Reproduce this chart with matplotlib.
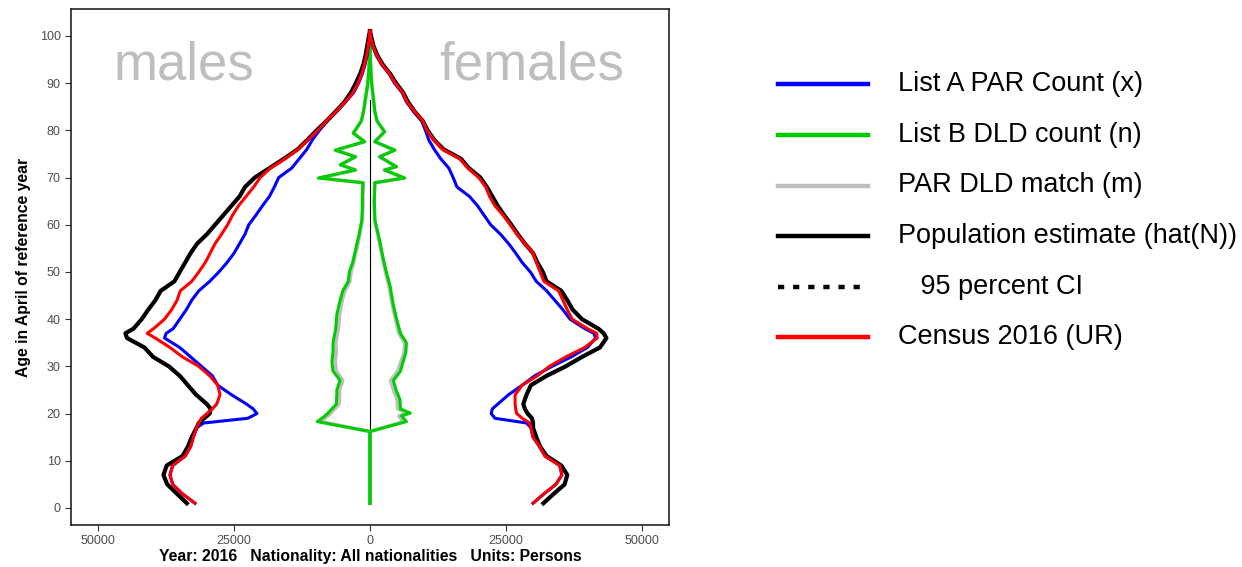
import matplotlib
matplotlib.use("Agg")
import matplotlib.pyplot as plt
from matplotlib.lines import Line2D
import numpy as np

plt.rcParams['font.family'] = ['Liberation Sans', 'DejaVu Sans']

# single-year ages used for the estimate / census / List A curves
ages = [1, 3, 5, 7, 9, 11, 13, 15, 17, 18, 19, 20, 21, 22, 24, 26, 28, 30, 32, 34, 36, 37, 38,
        40, 42, 44, 46, 48, 50, 52, 54, 56, 58, 60, 62, 64, 66, 68, 70, 72, 74, 76, 78, 80,
        82, 84, 86, 88, 90, 92, 94, 96, 98, 100, 101]

# males (counts, drawn to the left)
male_est = [33700, 35500, 37300, 38000, 37400, 34500, 33500, 32800, 31900, 31500, 30500, 29500,
            29300, 30000, 32000, 33500, 35000, 37000, 39900, 41500, 44700, 45000, 43500,
            42000, 40800, 39500, 38500, 36000, 35000, 34000, 33000, 31800, 30000, 28500, 27000,
            25500, 24000, 23000, 21200, 18500, 15800, 13300, 11500, 9800, 8000, 6300, 4700,
            3500, 2600, 1800, 1200, 800, 500, 200, 0]
male_census = [32200, 34500, 36300, 36800, 36300, 34000, 33000, 32500, 31900, 31500, 31000, 30000,
               29000, 28200, 27600, 28000, 29500, 31500, 34500, 36800, 39500, 41000, 39800,
               37800, 36500, 35500, 34900, 32800, 31500, 30300, 29400, 28500, 27300, 26200, 25300,
               24200, 22800, 21400, 20200, 18300, 15600, 13200, 11400, 9600, 8000, 6200, 4600,
               3100, 2200, 1500, 1000, 600, 300, 100, 0]
male_par = [32200, 34500, 36300, 36800, 36300, 34000, 33000, 32500, 31900, 30600, 22500, 20800,
            21500, 22700, 25500, 28000, 29000, 31000, 33000, 35000, 37800, 37500, 36200,
            35000, 33800, 32800, 31500, 29500, 27800, 26300, 25000, 24000, 23000, 22300, 21000,
            19800, 18500, 17600, 16800, 14400, 13000, 11600, 10600, 9300, 7800, 6100, 4500,
            3000, 2100, 1400, 900, 500, 250, 100, 0]

# females (counts, drawn to the right)
female_est = [31900, 33800, 35800, 36300, 35200, 32500, 31300, 30600, 30000, 30000, 29800, 29000,
              28500, 28200, 28800, 29600, 32500, 36000, 39000, 42300, 43500, 43000, 42000,
              39000, 37300, 36300, 35200, 32500, 31800, 30800, 30000, 28500, 27200, 26000, 24700,
              23500, 22500, 21500, 20300, 18200, 16700, 13500, 11800, 10600, 9700, 8200, 7000,
              6100, 4800, 3700, 2300, 1300, 600, 200, 0]
female_census = [30000, 32000, 34200, 35300, 34900, 32200, 31200, 30000, 29600, 29400, 28000, 27000,
                 26800, 26700, 26700, 28000, 30800, 33000, 36000, 39500, 41800, 41700, 40000,
                 37200, 36300, 35500, 34700, 32000, 31300, 30600, 30000, 28500, 27000, 25800, 24500,
                 23000, 22000, 21300, 20000, 18000, 16500, 13300, 11700, 10500, 9700, 8200, 6800,
                 6000, 4600, 3600, 2200, 1200, 500, 100, 0]
female_par = [30000, 32000, 34200, 35300, 34900, 32200, 31200, 30000, 29600, 28800, 23000, 22300,
              22500, 23500, 25500, 28000, 30300, 33500, 37000, 40000, 41500, 41200, 39500,
              36800, 35500, 34000, 32500, 30600, 29500, 28000, 26800, 25500, 24000, 22200, 21000,
              19800, 18300, 16000, 15300, 14500, 13000, 11800, 10800, 10200, 9500, 8000, 6700,
              5900, 4500, 3500, 2100, 1100, 450, 100, 0]

# List B (DLD) and PAR-DLD match
male_dld_ages = [1, 16.2, 18.3, 19.3, 20, 22, 24, 25, 27, 29, 31, 33, 35, 38, 41, 44, 46, 48, 50, 52,
                 55, 58, 61, 64, 66, 68.9, 69.9, 71.6, 72.7, 74.4, 75.8, 77.6, 79.4, 82, 84, 87,
                 90, 93, 97, 98]
male_dld = [0, 0, 9700, 8500, 7800, 6200, 6100, 6100, 5500, 6800, 7000, 6800, 6800, 6300, 6100, 5500,
            5000, 4000, 3800, 3200, 2600, 2000, 1500, 1400, 1400, 1300, 9500, 2700, 5500, 2700,
            6400, 1000, 3100, 1600, 1200, 800, 400, 200, 0, 0]
male_match = [0, 0, 9100, 8000, 7300, 5700, 5600, 5600, 5000, 6200, 6400, 6200, 6300, 5800, 5600, 5100,
              4600, 3700, 3500, 3000, 2400, 1850, 1400, 1300, 1300, 1200, 9200, 2600, 5300, 2600,
              6200, 950, 3000, 1550, 1150, 770, 380, 190, 0, 0]

female_dld_ages = [1, 16.2, 18.3, 19.5, 20.1, 21, 23, 25, 27, 29, 31, 33, 35, 37, 40, 43, 47, 50, 53,
                   57, 61, 65, 68.9, 69.9, 71.6, 72.3, 74.4, 75.8, 77.6, 79.7, 82, 84, 87, 90, 93,
                   97, 98]
female_dld = [0, 0, 6700, 5800, 7400, 5600, 5500, 4800, 4300, 5600, 6100, 6600, 6700, 5600, 4900, 4300,
              3700, 3000, 2400, 1700, 900, 800, 900, 6400, 2700, 4900, 1800, 4600, 900, 2700, 1300,
              900, 600, 300, 150, 0, 0]
female_match = [0, 0, 6100, 5300, 6800, 5100, 5000, 4300, 3800, 5100, 5700, 6300, 6400, 5300, 4700,
                4100, 3500, 2850, 2300, 1600, 850, 750, 850, 6200, 2600, 4750, 1700, 4450, 850, 2600,
                1250, 850, 580, 290, 140, 0, 0]

centre_ages = [1, 86.5]
xticks = [-50000, -25000, 0, 25000, 50000]
yticks = list(range(0, 101, 10))

legend_labels = ['List A PAR Count (x)', 'List B DLD count (n)', 'PAR DLD match (m)',
                 'Population estimate (hat(N))', '   95 percent CI', 'Census 2016 (UR)']

BLUE = '#0000ff'
GREEN = '#00cd00'
GREY = '#bebebe'
RED = '#ff0000'

fig = plt.figure(figsize=(12.42, 5.67), dpi=100)
ax = fig.add_axes([0.0572, 0.0741, 0.4814, 0.9100])

ax.plot([0, 0], centre_ages, color='black', lw=0.8, zorder=1)

for sign, a, v in [(-1, male_dld_ages, male_match), (1, female_dld_ages, female_match)]:
    ax.plot(sign * np.array(v), a, color=GREY, lw=2.6, zorder=2)
for sign, a, v in [(-1, male_dld_ages, male_dld), (1, female_dld_ages, female_dld)]:
    ax.plot(sign * np.array(v), a, color=GREEN, lw=2.2, zorder=3)

for sign, v in [(-1, male_par), (1, female_par)]:
    ax.plot(sign * np.array(v), ages, color=BLUE, lw=2.2, zorder=4)
for sign, v in [(-1, male_est), (1, female_est)]:
    ax.plot(sign * np.array(v), ages, color='black', lw=3.0, zorder=5)
for sign, v in [(-1, male_census), (1, female_census)]:
    ax.plot(sign * np.array(v), ages, color=RED, lw=2.2, zorder=6)

ax.text(-34200, 90.7, 'males', color=GREY, fontsize=38, ha='center', va='baseline')
ax.text(29800, 90.7, 'females', color=GREY, fontsize=38, ha='center', va='baseline')

ax.set_xlim(-55000, 55000)
ax.set_ylim(-3.6, 105.7)
ax.set_xticks(xticks)
ax.set_xticklabels([str(abs(t)) for t in xticks])
ax.set_yticks(yticks)
ax.tick_params(axis='both', labelsize=9, labelcolor='#4d4d4d', color='#333333', length=4, width=0.8)
for s in ax.spines.values():
    s.set_linewidth(1.2)
    s.set_color('#222222')

ax.set_ylabel('Age in April of reference year', fontsize=11.3, fontweight='bold', labelpad=6)
ax.set_xlabel('Year: 2016   Nationality: All nationalities   Units: Persons',
              fontsize=11.3, fontweight='bold', labelpad=1)

# legend drawn at its own place on the right
leg_colors = [BLUE, GREEN, GREY, 'black', 'black', RED]
leg_styles = ['-', '-', '-', '-', (0, (1.4, 2.0)), '-']
row_y = [84, 135, 185.5, 236, 286.5, 337]
for lab, col, ls, yp in zip(legend_labels, leg_colors, leg_styles, row_y):
    yf = 1 - yp / 567
    fig.add_artist(Line2D([778 / 1242, 868 / 1242], [yf, yf], color=col, lw=3.2,
                          linestyle=ls, dash_capstyle='butt'))
    fig.text(898 / 1242, yf, lab, fontsize=19.5, va='center', ha='left')

fig.savefig('out.png', dpi=100)
